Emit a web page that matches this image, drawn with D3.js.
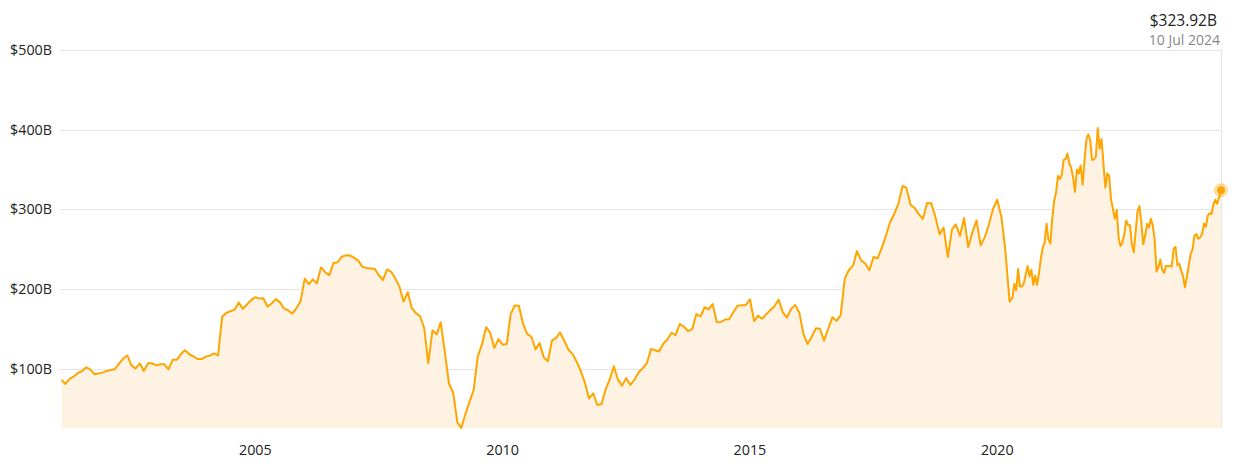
<!DOCTYPE html>
<html>
<head>
<meta charset="utf-8">
<script src="https://cdn.jsdelivr.net/npm/d3@7"></script>
<style>
  body { margin: 0; background: #fff; font-family: "Open Sans", sans-serif; }
</style>
</head>
<body>
<script>
const svgWidth = 1238;
const svgHeight = 466;

// monthly market cap ($B), starting Feb 2001
const monthlyStart = new Date(2001, 1, 1);
const monthlyValues = [
  85.8, 80.7, 87, 90, 94.6, 96.6, 101.6, 99, 93, 93.7,
  95.2, 97, 98.4, 99.2, 106.2, 112.6, 116.5, 104, 100, 106.7,
  97, 106.7, 106.6, 104, 105.4, 105.4, 99, 111, 111, 118,
  123, 118, 115.5, 112, 112, 115, 116.3, 119, 116.7, 165,
  170, 172, 174, 183, 175, 180.5, 186, 189.7, 188, 188.4,
  178, 181.5, 187.2, 183.4, 175.5, 173, 169, 176, 184.5, 213,
  206, 212, 207, 227, 221, 217.4, 232.5, 233.5, 240.5, 242.2,
  242, 239, 235.5, 228, 226.2, 225.8, 225.3, 217.5, 211, 224.5,
  221.5, 213, 203, 184, 196, 176, 169.6, 166, 151, 106.7,
  148, 143, 158, 120, 81, 70, 32.5, 25.4, 43, 58,
  73, 115, 130, 152, 145, 126, 137, 130, 131, 168,
  179.3, 179, 156, 143.5, 140, 124, 132, 114, 109.2, 135.5,
  138.6, 145.3, 135, 124, 118.5, 109, 97, 82, 62.6, 69,
  54.3, 55.5, 74, 86, 103, 86.5, 78.6, 88, 79.5, 86,
  95.3, 100.5, 106.7, 124.8, 123, 121.5, 131.3, 136.5, 145, 142,
  156, 152.5, 147, 149.5, 168.5, 165.4, 177, 174.5, 181, 158.3,
  158.5, 161.5, 162, 171, 179, 179.5, 179.5, 187, 159.5, 166.5,
  162.5, 168, 173.5, 178.3, 186.5, 170.5, 164, 175, 180, 170,
  143, 131, 140, 150.5, 150, 135.2, 150, 164.5, 160, 167,
  213, 223.8, 229.5, 247.5, 235.8, 232, 223.5, 240, 238.5, 251.8,
  267, 284, 294, 307.2, 329.3, 327, 305.8, 301.5, 294, 288,
  308, 307.5, 290.5, 268.5, 277, 240, 274.9, 281, 266.5, 289,
  252.6, 271, 286, 254.7, 265, 281.2, 300.5, 312, 290, 248,
  184
];

// every two weeks, ending 10 Jul 2024
const recentEnd = new Date(2024, 6, 10);
const recentValues = [
  188.9, 206.5, 198, 225, 203, 203, 207, 218, 228.7, 216,
  224, 205, 217, 205, 220, 238, 252, 258, 282, 262,
  257, 288, 310, 321, 342, 338, 343, 361.6, 363, 370,
  358, 352, 340, 322, 350, 345, 355, 331, 361.6, 387,
  394, 387, 362, 362.5, 366, 402, 376, 388, 357.5, 327,
  345, 342, 312, 301, 288, 299, 265, 254, 258, 269,
  286, 280, 280, 256, 246, 272, 298, 304, 283, 256,
  267, 282, 277, 288, 280, 262, 222, 227, 237, 224,
  220, 229, 228.5, 229, 228, 250, 253, 230, 231.6, 223,
  216, 202, 215, 230, 244, 250, 267, 269, 263, 265,
  269, 282, 278, 292, 295, 294, 306, 312, 307, 315,
  323.92
];

const yTicks = [100, 200, 300, 400, 500];
const xTicks = [2005, 2010, 2015, 2020];
const lastValueLabel = "$323.92B";
const lastDateLabel = "10 Jul 2024";

const data = monthlyValues.map((v, i) => ({ date: d3.timeMonth.offset(monthlyStart, i), value: v }))
  .concat(recentValues.map((v, i) => ({
    date: d3.timeDay.offset(recentEnd, -14 * (recentValues.length - 1 - i)),
    value: v
  })));

const plotLeft = 60, plotRight = 1221, plotTop = 50, plotBottom = 428;

const x = d3.scaleTime()
  .domain([new Date(2001, 0, 20), recentEnd])
  .range([plotLeft, plotRight]);

const y = d3.scaleLinear()
  .domain([d3.min(data, d => d.value), 500])
  .range([plotBottom, plotTop]);

const svg = d3.select("body")
  .append("svg")
  .attr("width", svgWidth)
  .attr("height", svgHeight);

// grid
svg.append("g")
  .selectAll("line")
  .data(yTicks)
  .enter()
  .append("line")
  .attr("x1", plotLeft)
  .attr("x2", plotRight)
  .attr("y1", d => Math.round(y(d)) + 0.5)
  .attr("y2", d => Math.round(y(d)) + 0.5)
  .attr("stroke", "#e6e6e6")
  .attr("stroke-width", 1);

svg.append("line")
  .attr("x1", plotRight + 0.5)
  .attr("x2", plotRight + 0.5)
  .attr("y1", plotTop)
  .attr("y2", plotBottom)
  .attr("stroke", "#e6e6e6");

svg.append("g")
  .selectAll("text")
  .data(yTicks)
  .enter()
  .append("text")
  .attr("x", 52)
  .attr("y", d => y(d))
  .attr("dy", "0.35em")
  .attr("text-anchor", "end")
  .attr("font-size", 14.3)
  .attr("fill", "#222")
  .text(d => "$" + d + "B");

svg.append("g")
  .selectAll("text")
  .data(xTicks)
  .enter()
  .append("text")
  .attr("x", d => x(new Date(d, 0, 1)))
  .attr("y", 455)
  .attr("text-anchor", "middle")
  .attr("font-size", 14.3)
  .attr("fill", "#222")
  .text(d => d);

// area + line
const area = d3.area()
  .x(d => x(d.date))
  .y0(plotBottom)
  .y1(d => y(d.value));

const line = d3.line()
  .x(d => x(d.date))
  .y(d => y(d.value));

svg.append("path")
  .datum(data)
  .attr("d", area)
  .attr("fill", "#fef2e2");

svg.append("path")
  .datum(data)
  .attr("d", line)
  .attr("fill", "none")
  .attr("stroke", "#ffa500")
  .attr("stroke-width", 2)
  .attr("stroke-linejoin", "round");

// last point marker
const last = data[data.length - 1];
svg.append("circle")
  .attr("cx", x(last.date))
  .attr("cy", y(last.value))
  .attr("r", 6.5)
  .attr("fill", "rgba(255,165,0,0.3)")
  .attr("stroke", "rgba(255,165,0,0.4)");

svg.append("circle")
  .attr("cx", x(last.date))
  .attr("cy", y(last.value))
  .attr("r", 4)
  .attr("fill", "#ffa500");

svg.append("text")
  .attr("x", 1217)
  .attr("y", 26)
  .attr("text-anchor", "end")
  .attr("font-size", 15.5)
  .attr("fill", "#222")
  .text(lastValueLabel);

svg.append("text")
  .attr("x", 1220)
  .attr("y", 45)
  .attr("text-anchor", "end")
  .attr("font-size", 14)
  .attr("fill", "#888")
  .text(lastDateLabel);
</script>
</body>
</html>
